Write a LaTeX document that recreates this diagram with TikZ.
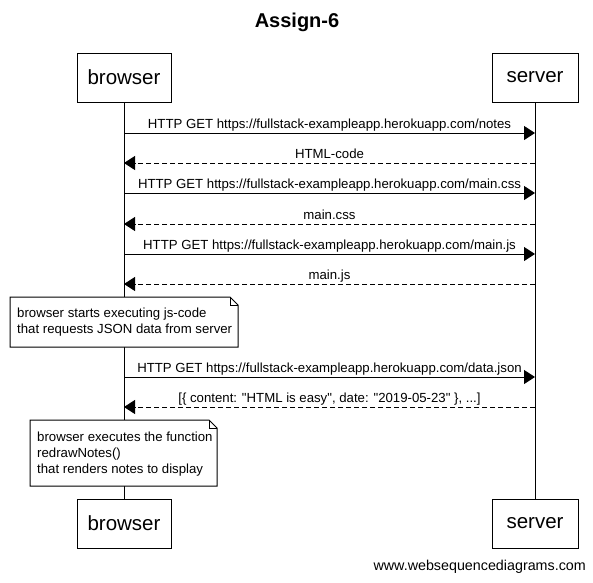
\documentclass[tikz,border=0pt]{standalone}
\usepackage{fontspec}
\setmainfont{Liberation Sans}[Ligatures=TeXOff]
\usetikzlibrary{arrows.meta}
\begin{document}
\begin{tikzpicture}[x=1pt,y=-1pt,
  actor/.style={draw, line width=1pt, minimum height=49pt, inner sep=0pt, font=\fontsize{20.5}{24}\selectfont},
  lifeline/.style={line width=1pt},
  msg/.style={line width=1pt, -{Triangle[length=11pt,width=14pt]}},
  ret/.style={msg, dash pattern=on 5pt off 3pt},
  lbl/.style={midway, anchor=base, yshift=4.5pt, inner sep=0pt, font=\fontsize{13.2}{16}\selectfont},
  notebox/.style={draw, fill=white, line width=1pt, line join=miter},
  notetext/.style={anchor=west, align=left, inner sep=0pt, font=\fontsize{13.2}{16}\selectfont}]
\useasboundingbox (0,0) rectangle (593,582);
\node[font=\bfseries\fontsize{20}{24}\selectfont] (title) at (297,22) {Assign-6};
\node[actor, minimum width=94pt] (bt) at (124,77.5) {browser};
\node[actor, minimum width=86pt] (st) at (535,77.5) {server};
\node[actor, minimum width=94pt] (bb) at (124,523.5) {browser};
\node[actor, minimum width=86pt] (sb) at (535,523.5) {server};
\draw[lifeline] (bt.south) -- (bb.north);
\draw[lifeline] (st.south) -- (sb.north);
\foreach \i/\y in {1/133,2/163,3/193,4/224,5/254,6/284,7/377,8/407}{
  \coordinate (b\i) at (124,\y);
  \coordinate (s\i) at (535,\y);
}
\draw[msg] (b1) -- node[lbl] (l1) {HTTP GET https://fullstack-exampleapp.herokuapp.com/notes} (s1);
\draw[ret] (s2) -- node[lbl] (l2) {HTML-code} (b2);
\draw[msg] (b3) -- node[lbl] (l3) {HTTP GET https://fullstack-exampleapp.herokuapp.com/main.css} (s3);
\draw[ret] (s4) -- node[lbl] (l4) {main.css} (b4);
\draw[msg] (b5) -- node[lbl] (l5) {HTTP GET https://fullstack-exampleapp.herokuapp.com/main.js} (s5);
\draw[ret] (s6) -- node[lbl] (l6) {main.js} (b6);
\draw[msg] (b7) -- node[lbl] (l7) {HTTP GET https://fullstack-exampleapp.herokuapp.com/data.json} (s7);
\draw[ret] (s8) -- node[lbl] (l8) {[\{ content: "HTML is easy", date: "2019-05-23" \}, ...]} (b8);
% note 1
\coordinate (n1a) at (10,297);
\coordinate (n1b) at (238,347);
\draw[notebox] (n1a) -- (230,297) -- (238,305) -- (n1b) -- (10,347) -- cycle;
\draw[line width=1pt] (230,297) -- (230,305) -- (238,305);
\node[notetext] (n1) at (17,322) {browser starts executing js-code\\that requests JSON data from server};
% note 2
\coordinate (n2a) at (30,420);
\coordinate (n2b) at (217,486);
\draw[notebox] (n2a) -- (209,420) -- (217,428) -- (n2b) -- (30,486) -- cycle;
\draw[line width=1pt] (209,420) -- (209,428) -- (217,428);
\node[notetext] (n2) at (37,454) {browser executes the function\\redrawNotes()\\that renders notes to display};
\node[anchor=east, inner sep=0pt, font=\fontsize{14.3}{17}\selectfont] (wsd) at (586,567) {www.websequencediagrams.com};
\end{tikzpicture}
\end{document}
